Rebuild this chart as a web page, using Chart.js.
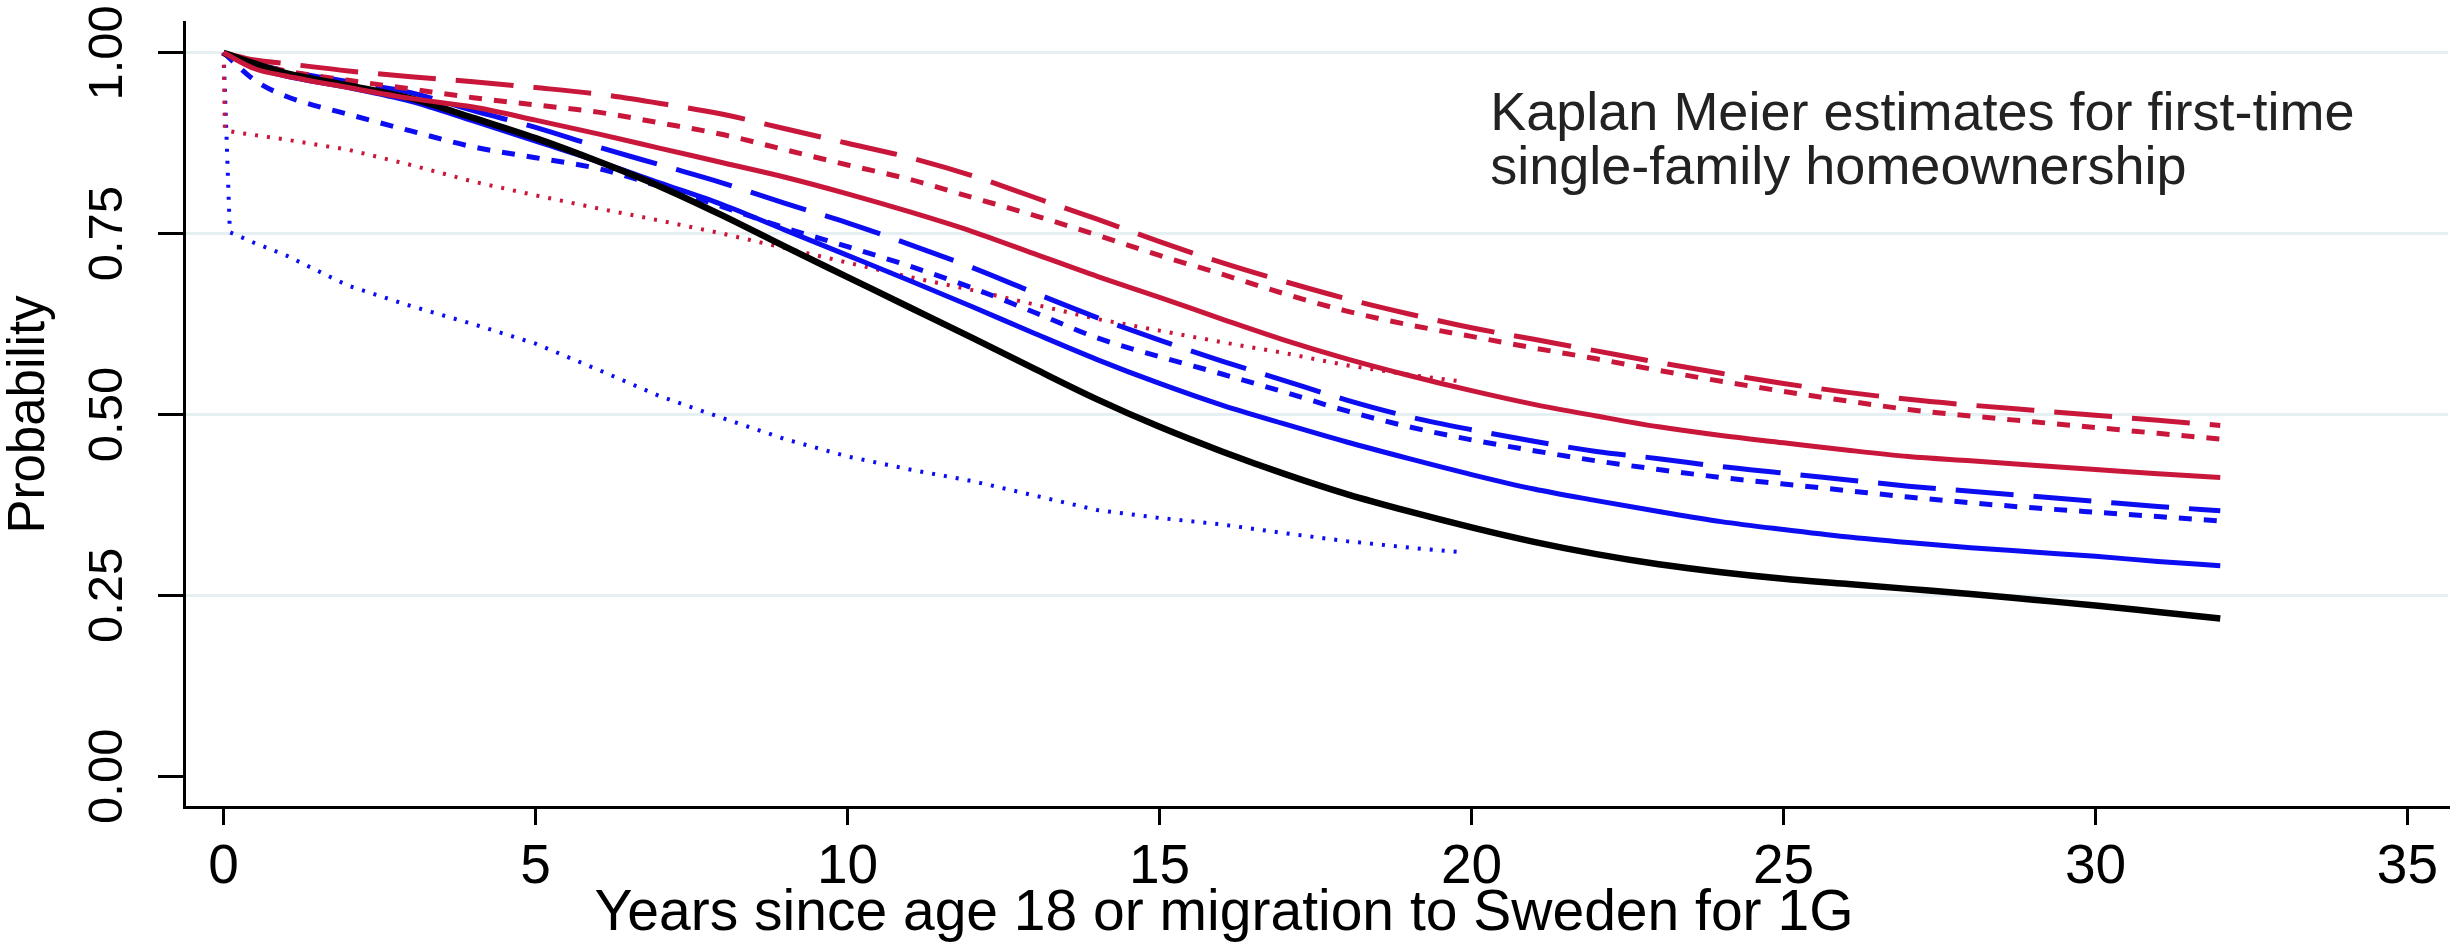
<!DOCTYPE html>
<html>
<head>
<meta charset="utf-8">
<script src="https://cdn.jsdelivr.net/npm/chart.js@4.4.1/dist/chart.umd.min.js"></script>
<style>
  html, body { margin: 0; padding: 0; background: #fff; }
  canvas { display: block; }
</style>
</head>
<body>
<canvas id="kmChart" width="2451" height="943"></canvas>
<script>
// Kaplan Meier curves
const years = [0, 0.5, 1, 2, 3, 4, 5, 6, 7, 8, 9, 10, 11, 12, 13, 14, 15, 16,
  17, 18, 19, 20, 21, 22, 23, 24, 25, 26, 27, 28, 29, 30, 31, 32];

const blackSolid = [1.0, 0.985, 0.972, 0.955, 0.937, 0.91, 0.882, 0.85, 0.815, 0.775, 0.732,
  0.69, 0.648, 0.606, 0.563, 0.521, 0.483, 0.449, 0.418, 0.39, 0.366, 0.344, 0.324, 0.307,
  0.293, 0.282, 0.273, 0.266, 0.259, 0.252, 0.244, 0.236, 0.227, 0.218];
const blueSolid = [1.0, 0.98, 0.968, 0.952, 0.933, 0.906, 0.878, 0.85, 0.82, 0.79, 0.755,
  0.72, 0.685, 0.649, 0.612, 0.576, 0.543, 0.513, 0.487, 0.462, 0.439, 0.417, 0.397, 0.381,
  0.366, 0.352, 0.341, 0.331, 0.323, 0.316, 0.31, 0.304, 0.297, 0.291];
const blueLongDash = [1.0, 0.985, 0.975, 0.96, 0.945, 0.92, 0.897, 0.87, 0.845, 0.82, 0.792,
  0.765, 0.735, 0.703, 0.668, 0.634, 0.603, 0.574, 0.547, 0.52, 0.497, 0.479, 0.463, 0.449,
  0.439, 0.428, 0.419, 0.41, 0.401, 0.394, 0.387, 0.38, 0.373, 0.367];
const blueShortDash = [1.0, 0.962, 0.94, 0.915, 0.892, 0.87, 0.855, 0.84, 0.815, 0.787, 0.758,
  0.732, 0.705, 0.675, 0.641, 0.606, 0.58, 0.556, 0.531, 0.505, 0.483, 0.465, 0.45, 0.436,
  0.424, 0.413, 0.404, 0.395, 0.386, 0.378, 0.371, 0.365, 0.359, 0.353];
const redSolid = [1.0, 0.978, 0.968, 0.952, 0.937, 0.925, 0.907, 0.888, 0.868, 0.848, 0.828,
  0.805, 0.78, 0.753, 0.722, 0.691, 0.662, 0.632, 0.603, 0.577, 0.554, 0.533, 0.514, 0.498,
  0.483, 0.471, 0.461, 0.451, 0.442, 0.436, 0.43, 0.424, 0.418, 0.413];
const redLongDash = [1.0, 0.99, 0.985, 0.975, 0.967, 0.96, 0.952, 0.943, 0.93, 0.915, 0.895,
  0.875, 0.855, 0.83, 0.8, 0.77, 0.739, 0.71, 0.684, 0.66, 0.639, 0.62, 0.604, 0.588,
  0.572, 0.557, 0.543, 0.531, 0.521, 0.513, 0.506, 0.499, 0.492, 0.485];
const redShortDash = [1.0, 0.985, 0.975, 0.962, 0.95, 0.938, 0.928, 0.918, 0.903, 0.887, 0.866,
  0.845, 0.825, 0.8, 0.775, 0.748, 0.72, 0.694, 0.667, 0.643, 0.624, 0.608, 0.592, 0.577,
  0.561, 0.546, 0.532, 0.519, 0.507, 0.498, 0.49, 0.482, 0.474, 0.466];

// the two dotted curves stop near 20 years and drop right at the start
const blueDottedYears = [0, 0.1, 0.5, 1, 1.5, 2, 3, 4, 5, 6, 7, 8, 9, 10, 11, 12, 13, 14,
  15, 16, 17, 18, 19, 19.8];
const blueDotted = [1.0, 0.752, 0.737, 0.72, 0.699, 0.678, 0.65, 0.625, 0.598, 0.562, 0.525,
  0.495, 0.466, 0.442, 0.424, 0.408, 0.388, 0.368, 0.357, 0.348, 0.336, 0.325, 0.316, 0.31];
const redDottedYears = [0, 0.02, 0.2, 1, 2, 3, 4, 5, 6, 7, 8, 9, 10, 11, 12, 13, 14, 15,
  16, 17, 18, 19, 19.9];
const redDotted = [1.0, 0.893, 0.89, 0.88, 0.866, 0.845, 0.822, 0.803, 0.785, 0.768, 0.75,
  0.73, 0.71, 0.69, 0.672, 0.652, 0.632, 0.616, 0.6, 0.585, 0.568, 0.555, 0.545];

const xTicks = [0, 5, 10, 15, 20, 25, 30, 35];
const yTicks = [0, 0.25, 0.5, 0.75, 1];

const xTitle = 'Years since age 18 or migration to Sweden for 1G';
const yTitle = 'Probability';
const noteLines = ['Kaplan Meier estimates for first-time', 'single-family homeownership'];

const RED = '#C8173A';
const BLUE = '#0D0DF2';
const BLACK = '#000000';

Chart.defaults.font.family = '"Liberation Sans", Arial, Helvetica, sans-serif';
Chart.defaults.color = '#000';

// zip x and y arrays into points
function pts(xs, ys) {
  return ys.map((y, i) => ({ x: xs[i], y: y }));
}

function curve(xs, ys, color, width, dash, smooth) {
  return {
    data: pts(xs, ys),
    borderColor: color,
    borderWidth: width,
    borderDash: dash,
    borderCapStyle: 'butt',
    pointRadius: 0,
    fill: false,
    tension: 0,
    cubicInterpolationMode: smooth ? 'monotone' : 'default'
  };
}

// text box inside the plot, anchored on the axes
const notePlugin = {
  id: 'kmNote',
  afterDraw(chart) {
    const c = chart.ctx;
    const x = chart.scales.x.getPixelForValue(20.3);
    const y = chart.scales.y.getPixelForValue(0.893);
    c.save();
    c.font = '54px "Liberation Sans", Arial, sans-serif';
    c.fillStyle = '#222';
    c.textAlign = 'left';
    c.textBaseline = 'alphabetic';
    noteLines.forEach((t, i) => c.fillText(t, x, y + i * 54));
    c.restore();
  }
};

const ctx = document.getElementById('kmChart');

new Chart(ctx, {
  type: 'line',
  data: {
    datasets: [
      curve(years, redSolid, RED, 5, [], true),
      curve(years, blackSolid, BLACK, 6.5, [], true),
      curve(years, blueSolid, BLUE, 5, [], true),
      curve(years, redLongDash, RED, 5, [58, 20], true),
      curve(years, redShortDash, RED, 5, [13, 12], true),
      curve(years, blueLongDash, BLUE, 5, [58, 20], true),
      curve(years, blueShortDash, BLUE, 5, [13, 12], true),
      curve(redDottedYears, redDotted, RED, 4, [3, 9], false),
      curve(blueDottedYears, blueDotted, BLUE, 4, [3, 9], false)
    ]
  },
  options: {
    responsive: false,
    animation: false,
    devicePixelRatio: 1,
    layout: { padding: { top: 22, right: 3, left: 0, bottom: 0 } },
    plugins: {
      legend: { display: false },
      tooltip: { enabled: false },
      title: {
        display: true,
        position: 'bottom',
        text: xTitle,
        color: '#000',
        font: { size: 57, weight: 'normal', lineHeight: 1.0 },
        padding: 0
      }
    },
    scales: {
      x: {
        type: 'linear',
        min: -0.635,
        max: 35.65,
        afterBuildTicks: s => { s.ticks = xTicks.map(v => ({ value: v })); },
        afterFit: s => { s.height = 79; s.paddingLeft = 0; s.paddingRight = 0; },
        grid: { drawOnChartArea: false, tickLength: 18, tickColor: '#000', tickWidth: 3, lineWidth: 3 },
        border: { color: '#000', width: 3 },
        ticks: {
          color: '#000',
          font: { size: 55 },
          padding: 10,
          maxRotation: 0,
          autoSkip: false,
          callback: v => String(v)
        }
      },
      y: {
        type: 'linear',
        min: -0.0425,
        max: 1.0426,
        afterBuildTicks: s => { s.ticks = yTicks.map(v => ({ value: v })); },
        afterFit: s => { s.width = 184; s.paddingTop = 0; s.paddingBottom = 0; },
        grid: {
          color: c => (c.tick && c.tick.value === 0) ? 'rgba(0,0,0,0)' : '#E6EFF1',
          lineWidth: 3,
          tickLength: 26,
          tickColor: '#000',
          tickWidth: 3
        },
        border: { color: '#000', width: 3 },
        ticks: {
          color: '#000',
          font: { size: 49 },
          minRotation: 90,
          maxRotation: 90,
          crossAlign: 'center',
          padding: 2,
          autoSkip: false,
          callback: v => v.toFixed(2)
        },
        title: {
          display: true,
          text: yTitle,
          color: '#000',
          font: { size: 51, lineHeight: 1.0 },
          padding: { top: 4, bottom: 0 }
        }
      }
    }
  },
  plugins: [notePlugin]
});
</script>
</body>
</html>
